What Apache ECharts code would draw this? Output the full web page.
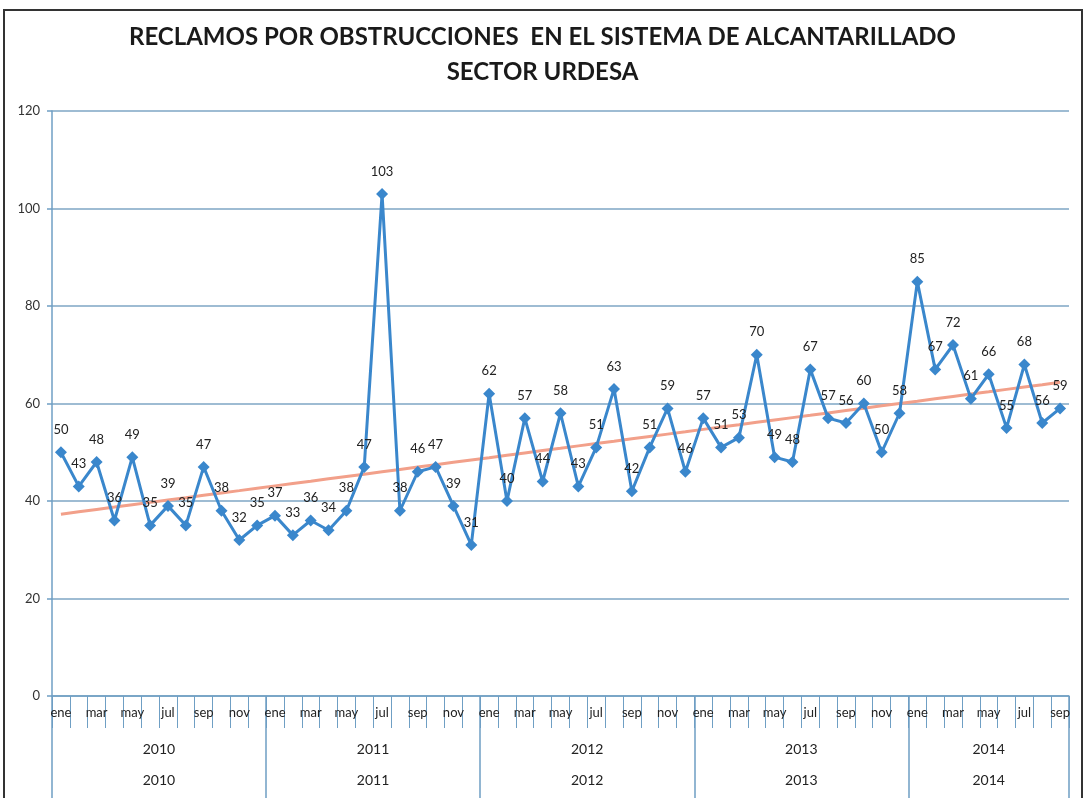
<!DOCTYPE html>
<html>
<head>
<meta charset="utf-8">
<script src="https://cdn.jsdelivr.net/npm/echarts@6/dist/echarts.min.js"></script>
<style>
  html, body { margin: 0; padding: 0; background: #fff; }
  #chart { width: 1085px; height: 798px; }
  #frame {
    position: absolute; left: 3px; top: 9px; width: 1076px; height: 800px;
    border-left: 2px solid #333; border-top: 2px solid #333; border-right: 2px solid #333;
    pointer-events: none;
  }
</style>
</head>
<body>
<div id="chart"></div>
<div id="frame"></div>
<script>
// months shown on the axis (spanish abbreviations)
const monthNames = ["ene", "feb", "mar", "abr", "may", "jun", "jul", "ago", "sep", "oct", "nov", "dic"];
const years = ["2010", "2011", "2012", "2013", "2014"];
const monthsPerYear = [12, 12, 12, 12, 9];

// reclamos per month
const v2010 = [50, 43, 48, 36, 49, 35, 39, 35, 47, 38, 32, 35];
const v2011 = [37, 33, 36, 34, 38, 47, 103, 38, 46, 47, 39, 31];
const v2012 = [62, 40, 57, 44, 58, 43, 51, 63, 42, 51, 59, 46];
const v2013 = [57, 51, 53, 70, 49, 48, 67, 57, 56, 60, 50, 58];
const v2014 = [85, 67, 72, 61, 66, 55, 68, 56, 59];

const values = [].concat(v2010, v2011, v2012, v2013, v2014);

// category list + year of each category
const months = [];
const yearOf = [];
years.forEach((y, i) => {
  for (let m = 0; m < monthsPerYear[i]; m++) {
    months.push(monthNames[m]);
    yearOf.push(y);
  }
});

// year boundaries (index of first month) and middle of each year
const yearStart = [];
const yearMid = {};
let acc = 0;
monthsPerYear.forEach((n, i) => {
  yearStart.push(acc);
  yearMid[acc + Math.floor(n / 2)] = { year: years[i], even: n % 2 === 0 };
  acc += n;
});

// linear trend (least squares) like excel's trendline
const n = values.length;
let sx = 0, sy = 0, sxy = 0, sxx = 0;
values.forEach((v, i) => { sx += i; sy += v; sxy += i * v; sxx += i * i; });
const slope = (n * sxy - sx * sy) / (n * sxx - sx * sx);
const icpt = (sy - slope * sx) / n;
const trend = values.map((v, i) => +(icpt + slope * i).toFixed(2));

const font = "Lato, 'Open Sans', sans-serif";
const axisBlue = "#6f9fc4";

const yearLabel = (margin) => ({
  interval: (idx) => yearMid[idx] !== undefined,
  margin: margin,
  color: "#222",
  fontSize: 14,
  fontFamily: font,
  formatter: (val, idx) => {
    const m = yearMid[idx];
    if (!m) return "";
    return m.even ? "{e|" + m.year + "}" : "{o|" + m.year + "}";
  },
  rich: {
    e: { fontSize: 14, fontFamily: font, color: "#222", padding: [0, 18, 0, 0] },
    o: { fontSize: 14, fontFamily: font, color: "#222" }
  }
});

const chart = echarts.init(document.getElementById("chart"));
chart.setOption({
  backgroundColor: "#fff",
  animation: false,
  title: {
    text: "RECLAMOS POR OBSTRUCCIONES  EN EL SISTEMA DE ALCANTARILLADO\nSECTOR URDESA",
    left: "center",
    top: 15,
    textStyle: {
      fontFamily: font,
      fontWeight: "bold",
      fontSize: 24,
      lineHeight: 35,
      color: "#1a1a1a"
    }
  },
  grid: { left: 52, right: 16, top: 111, bottom: 102, containLabel: false },
  xAxis: [
    {
      type: "category",
      data: months,
      boundaryGap: true,
      position: "bottom",
      axisLine: { show: true, lineStyle: { color: axisBlue, width: 1.5 } },
      axisTick: { show: true, interval: 0, length: 32, lineStyle: { color: axisBlue, width: 1 } },
      axisLabel: { interval: 1, margin: 10, color: "#222", fontSize: 13, fontFamily: font }
    },
    {
      type: "category",
      data: yearOf,
      boundaryGap: true,
      position: "bottom",
      axisLine: { show: false },
      axisTick: {
        show: true,
        interval: (idx) => yearStart.includes(idx),
        length: 104,
        lineStyle: { color: axisBlue, width: 1.5 }
      },
      axisLabel: yearLabel(46)
    },
    {
      type: "category",
      data: yearOf,
      boundaryGap: true,
      position: "bottom",
      axisLine: { show: false },
      axisTick: { show: false },
      axisLabel: yearLabel(77)
    },
    {
      // one band over the whole width: only gives the closing line at the right end
      type: "category",
      data: ["periodo"],
      boundaryGap: true,
      position: "bottom",
      axisLine: { show: false },
      axisTick: { show: true, interval: 0, length: 104, lineStyle: { color: axisBlue, width: 1.5 } },
      axisLabel: { show: false }
    }
  ],
  yAxis: {
    type: "value",
    min: 0,
    max: 120,
    interval: 20,
    axisLine: { show: true, lineStyle: { color: axisBlue, width: 1.5 } },
    axisTick: { show: true, length: 5, lineStyle: { color: axisBlue, width: 1.5 } },
    axisLabel: { color: "#333", fontSize: 13, fontFamily: font, margin: 12 },
    splitLine: { show: true, lineStyle: { color: "#7ea6c4", width: 1.5 } }
  },
  series: [
    {
      name: "Lineal",
      type: "line",
      xAxisIndex: 0,
      data: trend,
      symbol: "none",
      lineStyle: { color: "#f2a08a", width: 3 },
      z: 1,
      silent: true
    },
    {
      name: "Reclamos",
      type: "line",
      xAxisIndex: 0,
      data: values,
      symbol: "diamond",
      symbolSize: 12,
      showAllSymbol: true,
      lineStyle: { color: "#3a87cc", width: 3 },
      itemStyle: { color: "#3a87cc" },
      label: {
        show: true,
        position: "top",
        distance: 10,
        color: "#222",
        fontSize: 13,
        fontFamily: font
      },
      labelLayout: { hideOverlap: false },
      z: 3
    }
  ]
});
</script>
</body>
</html>
